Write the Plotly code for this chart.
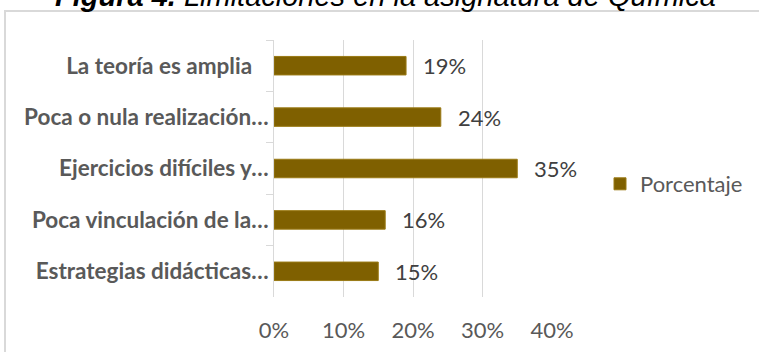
import plotly.graph_objects as go

# Data
categorias = [
    "La teoría es amplia\u00a0\u00a0\u00a0",
    "Poca o nula realización…",
    "Ejercicios difíciles y…",
    "Poca vinculación de la…",
    "Estrategias didácticas…",
]
porcentajes = [0.19, 0.24, 0.35, 0.16, 0.15]
serie = "Porcentaje"
titulo_negrita = "Figura 4."
titulo_resto = " Limitaciones en la asignatura de Química"
ticks_x = [0, 0.1, 0.2, 0.3, 0.4]

# Figure geometry (pixels)
W_FIG, H_FIG = 759, 352
M_L, M_R, M_T, M_B = 274, 207, 40, 55
PW = W_FIG - M_L - M_R
PH = H_FIG - M_T - M_B


def px_x(p):
    return (p - M_L) / PW


def px_y(p):
    return (H_FIG - M_B - p) / PH


COLOR_BAR = "#7f6000"
GRID = "#d9d9d9"
FONT = "Lato"

fig = go.Figure()
fig.add_trace(go.Bar(
    x=porcentajes,
    y=categorias,
    orientation="h",
    name=serie,
    marker=dict(color=COLOR_BAR, line=dict(color="#9a7a14", width=1)),
    width=0.36,
    hoverinfo="skip",
))

# value labels to the right of each bar
for cat, v in zip(categorias, porcentajes):
    fig.add_annotation(
        x=v, y=cat, xref="x", yref="y",
        text=f"{round(v * 100)}%",
        showarrow=False, xanchor="left", xshift=15,
        font=dict(family=FONT, size=22, color="#404040"),
    )

# title, partly above the page edge
fig.add_annotation(
    xref="paper", yref="paper",
    x=px_x(385), y=px_y(14), xanchor="center", yanchor="bottom",
    text=f"<b><i>{titulo_negrita}</i></b><i>{titulo_resto}</i>",
    showarrow=False,
    font=dict(family="Liberation Sans", size=29, color="#000000"),
)

# chart frame
fig.add_shape(
    type="rect", xref="paper", yref="paper",
    x0=px_x(5), x1=px_x(780), y0=px_y(11), y1=px_y(380),
    line=dict(color=GRID, width=2), fillcolor="rgba(0,0,0,0)", layer="below",
)

fig.update_layout(
    width=W_FIG, height=H_FIG,
    margin=dict(l=M_L, r=M_R, t=M_T, b=M_B, autoexpand=False),
    paper_bgcolor="white", plot_bgcolor="white",
    showlegend=True,
    legend=dict(
        x=px_x(600), y=px_y(184), xanchor="left", yanchor="middle",
        font=dict(family=FONT, size=22, color="#595959"),
        bgcolor="rgba(0,0,0,0)",
    ),
    xaxis=dict(
        range=[0, 0.4], tickvals=ticks_x, tickformat=".0%",
        showgrid=True, gridcolor=GRID, gridwidth=1,
        zeroline=False, showline=False, ticks="",
        ticklabelstandoff=18,
        tickfont=dict(family=FONT, size=22, color="#595959"),
        fixedrange=True,
    ),
    yaxis=dict(
        autorange="reversed", type="category",
        showline=True, linecolor=GRID, linewidth=1,
        ticks="outside", tickson="boundaries", ticklen=7, tickcolor=GRID,
        showgrid=False,
        tickfont=dict(family=FONT, size=22.5, color="#595959", weight="bold"),
        fixedrange=True,
    ),
)

fig.write_html("out.html")
